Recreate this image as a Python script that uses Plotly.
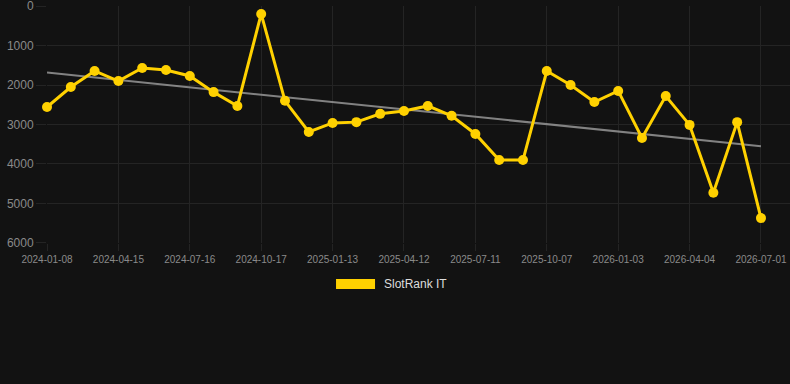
import numpy as np
import plotly.graph_objects as go

dates = ["2024-01-08", "2024-02-12", "2024-03-15", "2024-04-15", "2024-05-16", "2024-06-14",
         "2024-07-16", "2024-08-15", "2024-09-16", "2024-10-17", "2024-11-15", "2024-12-13",
         "2025-01-13", "2025-02-11", "2025-03-13", "2025-04-12", "2025-05-12", "2025-06-11",
         "2025-07-11", "2025-08-09", "2025-09-08", "2025-10-07", "2025-11-05", "2025-12-04",
         "2026-01-03", "2026-02-02", "2026-03-05", "2026-04-04", "2026-05-03", "2026-06-01",
         "2026-07-01"]
rank_it = [2557, 2050, 1645, 1900, 1570, 1620, 1770, 2180, 2530, 200, 2400, 3190,
           2960, 2940, 2730, 2660, 2530, 2780, 3240, 3900, 3900, 1645, 2000, 2430,
           2150, 3340, 2280, 3010, 4730, 2940, 5370]
tick_dates = dates[::3]
y_ticks = [0, 1000, 2000, 3000, 4000, 5000, 6000]
series_name = "SlotRank IT"

idx = np.arange(len(rank_it))
slope, intercept = np.polyfit(idx, rank_it, 1)
trend = slope * idx + intercept

GOLD = "#FFD100"
BG = "#121212"
GRID = "#242424"

fig = go.Figure()
fig.add_trace(go.Scatter(
    x=dates, y=trend, mode="lines",
    line=dict(color="rgba(150,150,150,0.85)", width=2),
    showlegend=False, hoverinfo="skip", cliponaxis=False))
fig.add_trace(go.Scatter(
    x=dates, y=rank_it, mode="lines+markers", name=series_name,
    line=dict(color=GOLD, width=3),
    marker=dict(color=GOLD, size=10),
    showlegend=False, cliponaxis=False))

fig.update_layout(
    width=790, height=384,
    margin=dict(l=47, r=0, t=6, b=141),
    paper_bgcolor=BG, plot_bgcolor=BG,
    font=dict(family="Liberation Sans, Arial, sans-serif", color="#8a8a8a"),
    xaxis=dict(type="category", range=[0, 31.22], tickmode="array",
               tickvals=tick_dates, ticktext=tick_dates,
               showgrid=True, gridcolor=GRID, gridwidth=1,
               ticks="outside", ticklen=7, tickcolor=GRID,
               tickfont=dict(size=10, color="#8a8a8a"),
               ticklabeloverflow="allow",
               zeroline=False, showline=False),
    yaxis=dict(range=[6000.5, -0.5], tickmode="array", tickvals=y_ticks,
               showgrid=True, gridcolor=GRID, gridwidth=1,
               ticks="outside", ticklen=10, tickcolor=GRID,
               tickfont=dict(size=12, color="#8a8a8a"),
               ticklabeloverflow="allow",
               zeroline=False, showline=False),
    shapes=[dict(type="rect", xref="paper", yref="paper",
                 x0=0.389, x1=0.4415, y0=-0.194, y1=-0.152,
                 fillcolor=GOLD, line=dict(width=0))],
    annotations=[dict(text=series_name, xref="paper", yref="paper",
                      x=0.4509, y=-0.173, xanchor="left", yanchor="middle",
                      showarrow=False, font=dict(size=12, color="#dddddd"))],
)

fig.write_html("out.html")
